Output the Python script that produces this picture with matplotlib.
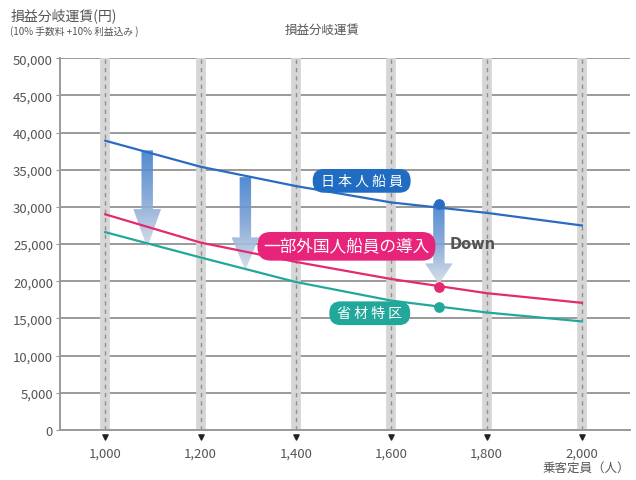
import matplotlib
matplotlib.use("Agg")
import matplotlib.pyplot as plt
from matplotlib.colors import LinearSegmentedColormap
from matplotlib.patches import Polygon
import matplotlib.transforms as mtransforms
import numpy as np

plt.rcParams['font.family'] = ['Noto Sans CJK JP', 'DejaVu Sans']

# 乗客定員ごとの損益分岐運賃
capacity = [1000, 1200, 1400, 1600, 1800, 2000]
fare_japanese = [38900, 35400, 32800, 30600, 29200, 27500]
fare_partial = [29000, 25200, 22600, 20300, 18400, 17100]
fare_special = [26600, 23200, 19900, 17400, 15800, 14600]

# 1,700人時点の比較
point_x = 1700
point_japanese = 30400
point_partial = 19200
point_special = 16500

yticks = list(range(0, 50001, 5000))
xticks = [1000, 1200, 1400, 1600, 1800, 2000]

blue = '#2b6cc0'
red = '#e42a6c'
teal = '#22a89a'
grid_col = '#9a9a9a'

fig = plt.figure(figsize=(6.36, 4.81), dpi=100)
ax = fig.add_axes([0.0943, 0.104, 0.897, 0.773])
ax.set_xlim(905, 2102)
ax.set_ylim(0, 50000)

# 横の目盛線
for y in yticks:
    ax.axhline(y, color=grid_col, lw=1.4, zorder=1)

# 縦の点線帯
for x in xticks:
    ax.axvline(x, color='#d6d6d6', lw=7, zorder=1.5)
    ax.axvline(x, color='#8f8f8f', lw=1.0, ls=(0, (3, 3)), zorder=1.6)


def gradient_arrow(x, y_top, y_head, y_tip, shaft_w=24, head_w=58):
    pts = [(x - shaft_w / 2, y_top), (x + shaft_w / 2, y_top),
           (x + shaft_w / 2, y_head), (x + head_w / 2, y_head),
           (x, y_tip), (x - head_w / 2, y_head), (x - shaft_w / 2, y_head)]
    poly = Polygon(pts, closed=True, facecolor='none', edgecolor='none',
                   transform=ax.transData)
    ax.add_patch(poly)
    cmap = LinearSegmentedColormap.from_list('arr', ['#3f7fd0', '#7fa3d4', '#d5dde8'])
    grad = np.linspace(0, 1, 200).reshape(-1, 1)
    im = ax.imshow(grad, cmap=cmap, aspect='auto', origin='upper',
                   extent=[x - head_w / 2, x + head_w / 2, y_tip, y_top],
                   zorder=2, alpha=0.9)
    im.set_clip_path(poly)


gradient_arrow(1088, 37600, 29700, 24500)
gradient_arrow(1294, 34000, 25900, 21500)
gradient_arrow(1700, point_japanese, 22400, 19600)

ax.plot(capacity, fare_japanese, color=blue, lw=1.6, zorder=3)
ax.plot(capacity, fare_partial, color=red, lw=1.6, zorder=3)
ax.plot(capacity, fare_special, color=teal, lw=1.6, zorder=3)

ax.scatter([point_x], [point_japanese], s=45, color=blue, zorder=4)
ax.scatter([point_x], [point_partial], s=45, color=red, zorder=4)
ax.scatter([point_x], [point_special], s=45, color=teal, zorder=4)

# 系列ラベル
box = dict(boxstyle='round,pad=0.35,rounding_size=0.8', lw=0)
ax.text(1538, 33500, ' 日 本 人 船 員 ', color='white', fontsize=10, ha='center', va='center',
        bbox=dict(box, facecolor='#1f6cc2'), zorder=5)
ax.text(1506, 24700, '一部外国人船員の導入', color='white', fontsize=12, ha='center', va='center',
        bbox=dict(box, facecolor='#e8247a'), zorder=5)
ax.text(1555, 15700, ' 省 材 特 区 ', color='white', fontsize=10, ha='center', va='center',
        bbox=dict(box, facecolor='#22a89a'), zorder=5)
ax.text(1771, 25100, 'Down', color='#555555', fontsize=10.5, fontweight='bold',
        ha='center', va='center', family='DejaVu Sans', zorder=5)

# 軸
for side in ['top', 'right']:
    ax.spines[side].set_visible(False)
for side in ['left', 'bottom']:
    ax.spines[side].set_color(grid_col)
    ax.spines[side].set_linewidth(1.4)

ax.set_yticks(yticks)
ax.set_yticklabels([f'{v:,}' for v in yticks])
ax.set_xticks(xticks)
ax.set_xticklabels([f'{v:,}' for v in xticks])
ax.tick_params(axis='y', length=3, color=grid_col, labelsize=9.5, labelcolor='#555555', pad=2)
ax.tick_params(axis='x', length=0, labelsize=9.5, labelcolor='#555555', pad=12)

# 目盛の下向き三角
trans = mtransforms.blended_transform_factory(ax.transData, ax.transAxes)
ax.scatter(xticks, [-0.018] * len(xticks), marker='v', s=14, color='#222222',
           transform=trans, clip_on=False, zorder=6)

fig.text(0.016, 0.968, '損益分岐運賃(円)', fontsize=10, color='#555555', ha='left', va='center')
fig.text(0.016, 0.934, '(10% 手数料 +10% 利益込み )', fontsize=7, color='#555555', ha='left', va='center')
fig.text(0.506, 0.936, '損益分岐運賃', fontsize=9, color='#555555', ha='center', va='center')
fig.text(0.99, 0.027, '乗客定員（人）', fontsize=9, color='#555555', ha='right', va='center')

fig.savefig('out.png', dpi=100)
